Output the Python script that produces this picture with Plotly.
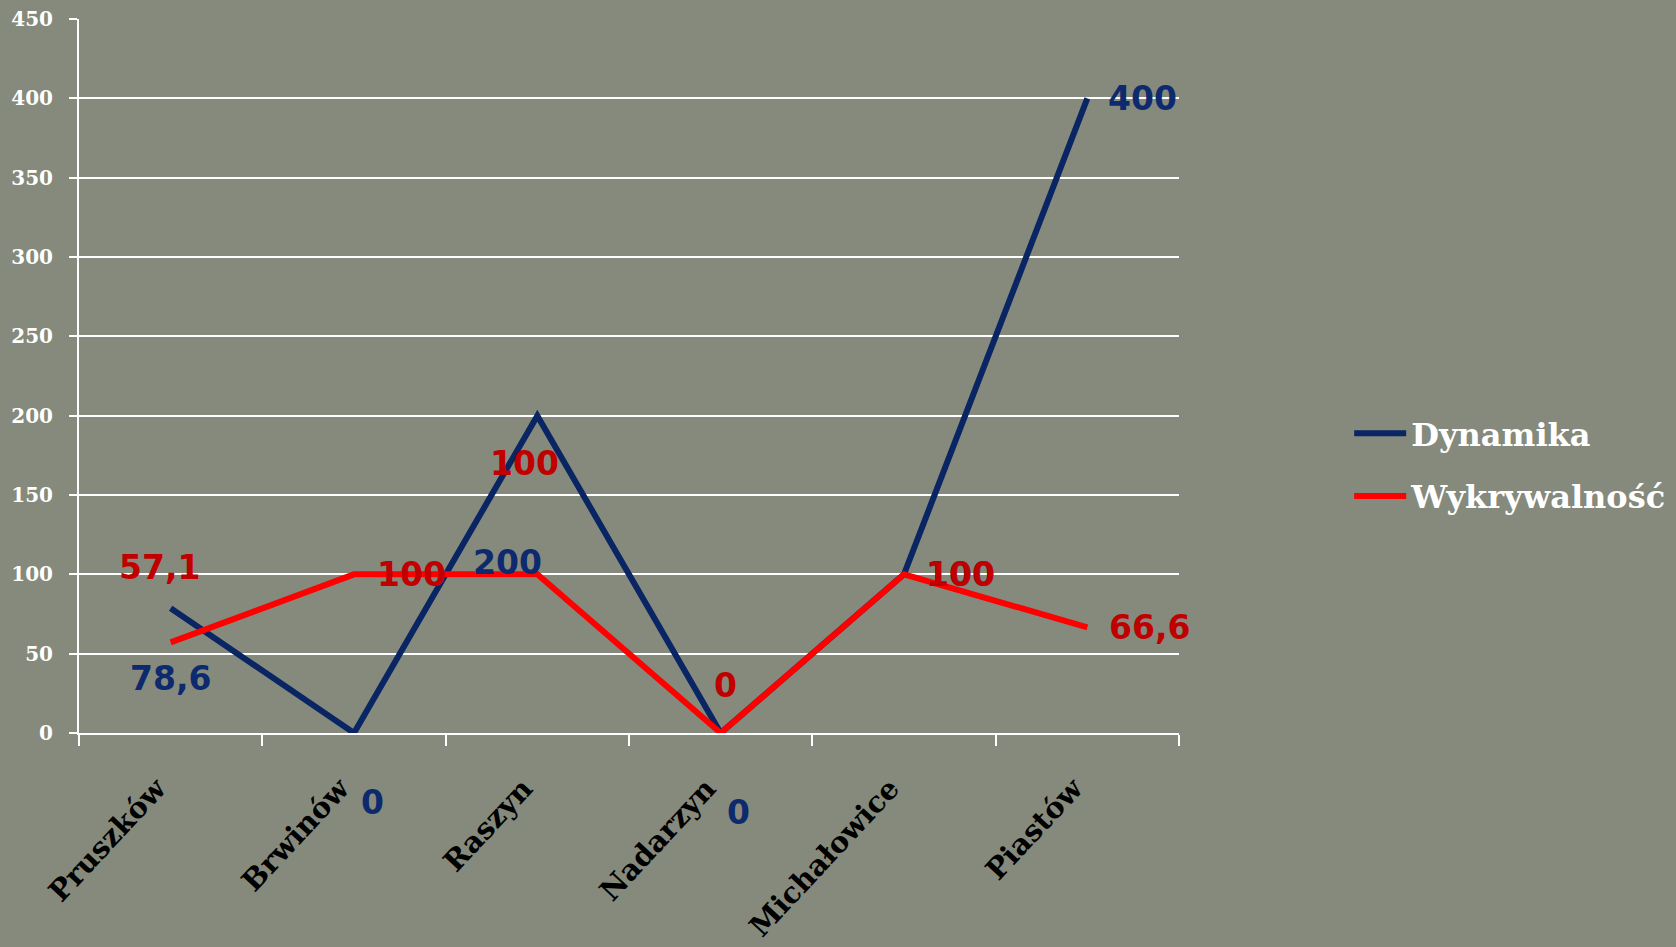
import plotly.graph_objects as go

categories = ["Pruszków", "Brwinów", "Raszyn", "Nadarzyn", "Michałowice", "Piastów"]
dynamika = [78.6, 0, 200, 0, 100, 400]
wykrywalnosc = [57.1, 100, 100, 0, 100, 66.6]
y_ticks = [0, 50, 100, 150, 200, 250, 300, 350, 400, 450]

# label offsets (pixels) - styling only
dyn_shift = [(0, -70), (18, -69), (-30, -147), (18, -79), (56, 0), (55, 0)]
wyk_shift = [(-11, 75), (57, 0), (-13, 111), (5, 48), (56, 0), (62, 0)]

NAVY = "#0a2563"
RED = "#ff0000"
BG = "#858a7d"

def fmt(v):
    return f"{v:g}".replace(".", ",")

fig = go.Figure()
fig.add_trace(go.Scatter(x=categories, y=dynamika, mode="lines", name="Dynamika",
                         legendgroup="a",
                         line=dict(color=NAVY, width=6)))
fig.add_trace(go.Scatter(x=categories, y=wykrywalnosc, mode="lines", name="Wykrywalność",
                         legendgroup="b",
                         line=dict(color=RED, width=6)))

ann = []
for c, v, (dx, dy) in zip(categories, dynamika, dyn_shift):
    ann.append(dict(x=c, y=v, xref="x", yref="y", text=fmt(v), showarrow=False,
                    xshift=dx, yshift=dy,
                    font=dict(family="DejaVu Sans", size=33, color="#0d2a6e", weight="bold")))
for c, v, (dx, dy) in zip(categories, wykrywalnosc, wyk_shift):
    ann.append(dict(x=c, y=v, xref="x", yref="y", text=fmt(v), showarrow=False,
                    xshift=dx, yshift=dy,
                    font=dict(family="DejaVu Sans", size=33, color="#c00000", weight="bold")))

fig.update_layout(
    width=1676, height=947,
    margin=dict(l=79, r=497, t=19, b=214, autoexpand=False),
    paper_bgcolor=BG, plot_bgcolor=BG,
    annotations=ann,
    showlegend=True,
    legend=dict(xref="container", yref="container",
                x=0.8050, y=0.509, xanchor="left", yanchor="middle",
                bgcolor="rgba(0,0,0,0)", traceorder="grouped",
                font=dict(family="DejaVu Serif", size=32, color="white", weight="bold"),
                itemwidth=52, tracegroupgap=18),
    xaxis=dict(type="category", range=[-0.5, 5.5], tickson="boundaries",
               tickvals=categories, ticktext=[c + "\u00a0\u00a0" for c in categories],
               ticks="outside", ticklen=11, tickwidth=2, tickcolor="white",
               showline=True, linecolor="white", linewidth=2,
               showgrid=False, tickangle=-47, automargin=False,
               ticklabelstandoff=10,
               tickfont=dict(family="DejaVu Serif", size=29, color="black", weight="bold")),
    yaxis=dict(range=[0, 450], tickvals=y_ticks, ticktext=[str(t) for t in y_ticks],
               ticks="outside", ticklen=8, tickwidth=2, tickcolor="white",
               showline=True, linecolor="white", linewidth=2,
               showgrid=True, gridcolor="white", gridwidth=2, zeroline=False,
               ticklabelstandoff=12, automargin=False,
               tickfont=dict(family="DejaVu Serif", size=20, color="white", weight="bold")),
)

fig.write_html("out.html", config={"displayModeBar": False},
               post_script="document.body.style.margin='0';")
